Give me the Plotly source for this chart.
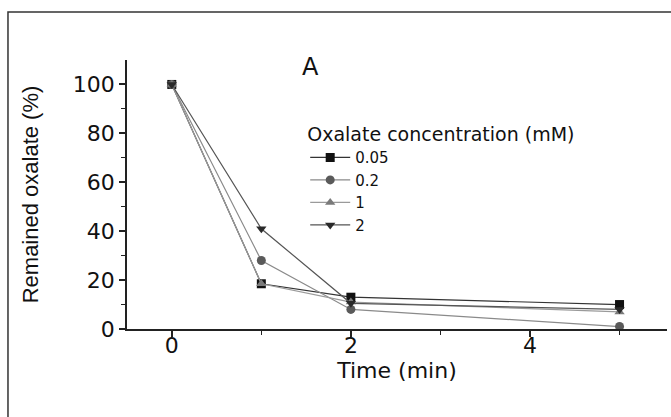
import plotly.graph_objects as go

time_min = [0, 1, 2, 5]
conc_labels = ["0.05", "0.2", "1", "2"]
vals_005 = [100, 18.5, 13, 10]
vals_02 = [100, 28, 8, 1]
vals_1 = [100, 18.5, 11, 7]
vals_2 = [100, 41, 10.5, 8]

series = [vals_005, vals_02, vals_1, vals_2]
symbols = ["square", "circle", "triangle-up", "triangle-down"]
marker_colors = ["#111111", "#5a5a5a", "#7a7a7a", "#2a2a2a"]
line_colors = ["#333333", "#8a8a8a", "#9a9a9a", "#555555"]

FONT = "DejaVu Sans"

fig = go.Figure()
for lab, ys, sym, mc, lc in zip(conc_labels, series, symbols, marker_colors, line_colors):
    fig.add_trace(go.Scatter(
        x=time_min, y=ys, name=lab, mode="lines+markers",
        line=dict(color=lc, width=1.2),
        marker=dict(symbol=sym, size=9, color=mc),
    ))

fig.update_layout(
    width=671, height=417,
    margin=dict(l=127, r=4, t=60, b=88),
    paper_bgcolor="white", plot_bgcolor="white",
    font=dict(family=FONT, color="#111111"),
    showlegend=True,
    legend=dict(
        x=0.33, y=0.79, xanchor="left", yanchor="top",
        bgcolor="rgba(0,0,0,0)",
        title=dict(text="Oxalate concentration (mM)", font=dict(size=19, family=FONT)),
        font=dict(size=15, family=FONT),
        tracegroupgap=0, itemwidth=40,
    ),
    xaxis=dict(
        range=[-0.5, 5.53], showgrid=False, zeroline=False,
        showline=True, linecolor="#222222", linewidth=1.5,
        ticks="outside", ticklen=6, tickwidth=1.5, tickcolor="#222222",
        tickmode="array", tickvals=[0, 2, 4], ticktext=["0", "2", "4"],
        tickfont=dict(size=22, family=FONT), ticklabelstandoff=-10,
        minor=dict(tickmode="array", tickvals=[1, 3, 5], ticks="outside", ticklen=4, tickcolor="#222222", tickwidth=1.2),
        title=dict(text="Time (min)", font=dict(size=22, family=FONT), standoff=0),
    ),
    yaxis=dict(
        range=[0, 110], showgrid=False, zeroline=False,
        showline=True, linecolor="#222222", linewidth=1.5,
        ticks="outside", ticklen=6, tickwidth=1.5, tickcolor="#222222",
        tickmode="array", tickvals=[0, 20, 40, 60, 80, 100],
        tickfont=dict(size=22, family=FONT),
        minor=dict(tickmode="array", tickvals=[10, 30, 50, 70, 90], ticks="outside", ticklen=4, tickcolor="#222222", tickwidth=1.2),
        title=dict(text="Remained oxalate (%)", font=dict(size=22, family="Liberation Sans"), standoff=28),
    ),
    annotations=[dict(
        text="A", x=0.34, y=0.974, xref="paper", yref="paper",
        xanchor="center", yanchor="middle", showarrow=False,
        font=dict(size=24, family=FONT, color="#111111"),
    )],
    shapes=[dict(
        type="rect", xref="paper", yref="paper",
        x0=-0.2204, x1=1.2, y0=-0.6, y1=1.178,
        line=dict(color="#333333", width=1.5), fillcolor="rgba(0,0,0,0)", layer="below",
    )],
)

fig.write_html("out.html")
